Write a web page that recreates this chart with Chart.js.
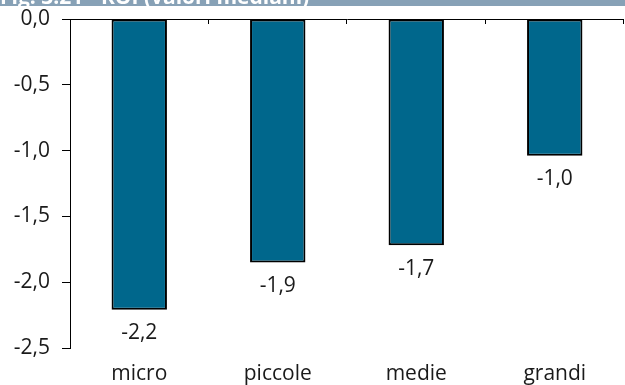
<!DOCTYPE html>
<html>
<head>
<meta charset="utf-8">
<script src="https://cdn.jsdelivr.net/npm/chart.js@4/dist/chart.umd.min.js"></script>
<style>
html,body{margin:0;padding:0;background:#fff;}
#wrap{position:relative;width:625px;height:385px;}
</style>
</head>
<body>
<div id="wrap"><canvas id="c"></canvas></div>
<script>
const titleText = "Fig. 3.21 - ROI (valori mediani)";
const categories = ["micro", "piccole", "medie", "grandi"];
const roiValues = [-2.21, -1.85, -1.72, -1.04];
const valueLabels = ["-2,2", "-1,9", "-1,7", "-1,0"];
const yTicks = [0, -0.5, -1.0, -1.5, -2.0, -2.5];

const FONT = "'Open Sans', 'Noto Sans', sans-serif";
const TEXT = "#1a1a1a";

const headerPlugin = {
  id: "header",
  beforeDraw(chart) {
    const ctx = chart.ctx;
    ctx.save();
    ctx.fillStyle = "#87a1b6";
    ctx.fillRect(0, 0, chart.width, 6);
    ctx.beginPath();
    ctx.rect(0, 0, chart.width, 6);
    ctx.clip();
    ctx.fillStyle = "#ffffff";
    ctx.font = "bold 21px " + FONT;
    ctx.textBaseline = "alphabetic";
    ctx.textAlign = "left";
    ctx.fillText(titleText, 0, 4);
    ctx.restore();
  }
};

const extrasPlugin = {
  id: "extras",
  afterDatasetsDraw(chart) {
    const ctx = chart.ctx;
    const xs = chart.scales.x;
    const ys = chart.scales.y;
    const y0 = ys.getPixelForValue(0);
    ctx.save();
    ctx.strokeStyle = "#000";
    ctx.lineWidth = 1;
    const n = categories.length;
    for (let i = 0; i < n; i++) {
      const c = xs.getPixelForValue(i);
      const next = i < n - 1 ? xs.getPixelForValue(i + 1) : c + (c - xs.getPixelForValue(i - 1));
      const bx = Math.round((c + next) / 2) - 0.5;
      ctx.beginPath();
      ctx.moveTo(bx, y0);
      ctx.lineTo(bx, y0 + 5);
      ctx.stroke();
    }
    const meta = chart.getDatasetMeta(0);
    ctx.fillStyle = TEXT;
    ctx.font = "21px " + FONT;
    ctx.textAlign = "center";
    ctx.textBaseline = "top";
    meta.data.forEach((bar, i) => {
      ctx.fillText(valueLabels[i], bar.x, bar.y + 13);
    });
    ctx.restore();
  }
};

new Chart(document.getElementById("c"), {
  type: "bar",
  data: {
    labels: categories,
    datasets: [{
      data: roiValues,
      backgroundColor: "#00678c",
      borderColor: "#000000",
      borderWidth: 2,
      borderSkipped: false,
      barPercentage: 0.4,
      categoryPercentage: 1.0
    }]
  },
  options: {
    responsive: true,
    maintainAspectRatio: false,
    animation: false,
    devicePixelRatio: 1,
    layout: { padding: { top: 19, right: 1, left: 0, bottom: 0 } },
    plugins: { legend: { display: false }, tooltip: { enabled: false }, title: { display: false } },
    scales: {
      x: {
        grid: { display: false },
        border: { display: false },
        ticks: { color: TEXT, font: { family: FONT, size: 21 }, padding: 5 },
        afterFit(s) { s.height = 37; s.paddingLeft = 0; s.paddingRight = 0; }
      },
      y: {
        min: -2.5,
        max: 0,
        afterBuildTicks(s) { s.ticks = yTicks.map(v => ({ value: v })); },
        ticks: {
          color: TEXT,
          font: { family: FONT, size: 21 },
          padding: 12,
          callback: v => Number(v).toFixed(1).replace(".", ",")
        },
        grid: {
          color: ctx => (ctx.tick && ctx.tick.value === 0 ? "#000" : "transparent"),
          tickColor: "#000",
          tickLength: 8,
          lineWidth: 1
        },
        border: { display: true, color: "#000", width: 1 },
        afterFit(s) { s.width = 70; s.paddingTop = 0; s.paddingBottom = 0; }
      }
    }
  },
  plugins: [headerPlugin, extrasPlugin]
});
</script>
</body>
</html>
